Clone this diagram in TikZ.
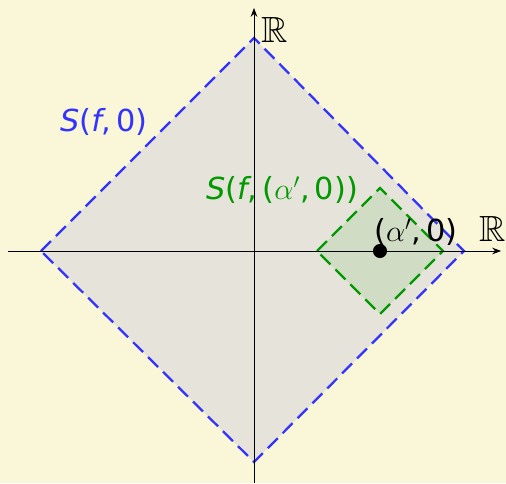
\documentclass[tikz,border=0pt]{standalone}
\usepackage{amssymb}
\usepackage{fontspec}
\setmainfont{DejaVu Sans}
\usetikzlibrary{arrows.meta}
\definecolor{paper}{HTML}{FAF6D8}
\definecolor{bigfill}{HTML}{E6E3DA}
\definecolor{smallfill}{HTML}{D1DCC4}
\definecolor{ballblue}{HTML}{3333FF}
\definecolor{ballgreen}{HTML}{009900}

\begin{document}
\begin{tikzpicture}[x=0.02cm, y=-0.02cm,
  ball/.style={line width=1.3pt, dash pattern=on 8pt off 4pt},
  lbl/.style={font=\LARGE, inner sep=0pt}]
\useasboundingbox[fill=paper] (0,0) rectangle (506,483);

% Big ball, centred at the origin
\draw[ball, ballblue, fill=bigfill] (41,251) -- (254,38) -- (464,251) -- (254,462) -- cycle;
% Small ball around (alpha',0)
\draw[ball, ballgreen, fill=smallfill] (317,251) -- (380,188) -- (443,251) -- (380,314) -- cycle;

% Draw coordinate axes
\coordinate (xs) at (8,251);
\coordinate (xe) at (501,251);
\coordinate (ys) at (254,483);
\coordinate (ye) at (254,8);
\draw[-{Stealth[length=5pt]}, thin] (xs) -- (xe);
\draw[-{Stealth[length=5pt]}, thin] (ys) -- (ye);
\node[font=\huge, inner sep=0pt] (rx) at (493,229) {$\mathbb{R}$};
\node[font=\huge, inner sep=0pt] (ry) at (275,30) {$\mathbb{R}$};

% Centre of the small ball
\fill (380,251) circle (4pt);
\node[lbl] (pt) at (416,232) {($\alpha'$,\,0)};

% Labels of the balls
\node[lbl, ballblue] (bigS) at (104,122) {\textit{S}(\textit{f},\,0)};
\node[lbl, ballgreen] (smallS) at (282,190) {\textit{S}(\textit{f},\,($\alpha'$,\,0))};
\end{tikzpicture}
\end{document}
